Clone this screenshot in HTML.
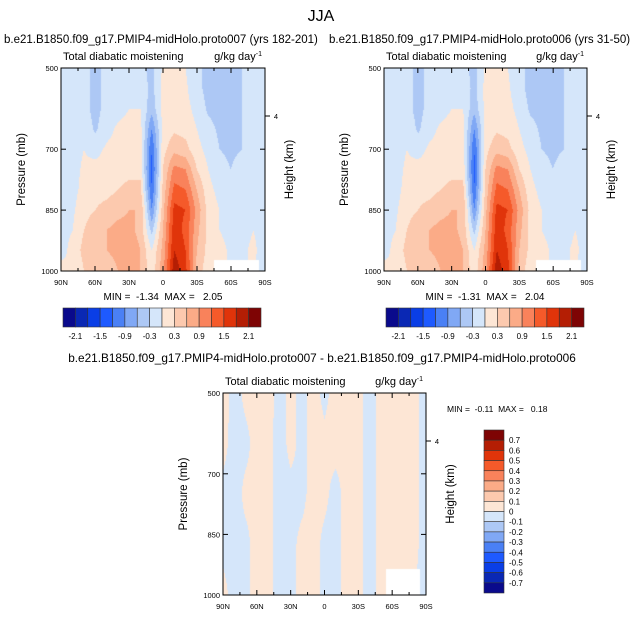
<!DOCTYPE html>
<html><head><meta charset="utf-8"><style>
body{margin:0;background:#fff;width:642px;height:617px;overflow:hidden;position:relative;font-family:"Liberation Sans",sans-serif}
canvas{position:absolute}
svg{position:absolute;left:0;top:0}
text{white-space:pre}
</style></head><body>
<canvas id="c1" width="204" height="203" style="left:61px;top:68px"></canvas>
<canvas id="c2" width="203" height="203" style="left:384px;top:68px"></canvas>
<canvas id="c3" width="203" height="202" style="left:223px;top:393px"></canvas>
<svg id="s" width="642" height="617"></svg>
<script>
const lats=[90,80,70,60,50,40,30,20,10,0,-10,-20,-30,-40,-50,-60,-70,-80,-90];
const levs=[500,550,600,650,700,750,800,850,900,950,1000];
const N=NaN;
const field1=[
[-.1,-.1,-.2,-.4,-.2,-.1,-.1,-.2,-.4,.05,.1,0,-.2,-.4,-.4,-.4,-.3,-.1,-.1],
[-.1,-.1,-.2,-.4,-.2,-.1,-.1,-.1,-.4,.1,.15,.05,-.2,-.4,-.4,-.4,-.3,-.1,-.1],
[-.1,-.1,-.2,-.4,-.2,-.1,0,0,-.5,.1,.2,.1,-.1,-.35,-.4,-.4,-.3,-.1,-.1],
[-.1,-.1,-.1,-.35,-.1,.05,.1,.1,-.9,.1,.25,.2,0,-.2,-.35,-.4,-.3,-.1,-.1],
[-.1,-.1,0,-.1,.05,.1,.15,.15,-1.2,.2,.5,.4,.1,-.1,-.3,-.35,-.3,-.1,-.1],
[-.1,-.1,.05,.1,.1,.15,.2,.2,-1.3,.3,1.0,.9,.3,0,-.2,-.3,-.2,-.1,-.1],
[-.1,-.1,.1,.2,.2,.3,.4,.4,-1.2,.4,1.3,1.2,.6,.1,-.1,-.2,-.2,-.1,-.1],
[-.1,-.05,.2,.3,.4,.5,.6,.6,-.9,.5,1.6,1.5,.8,.2,0,-.1,-.1,-.1,-.1],
[-.1,0,.3,.5,.6,.7,.7,.5,-.4,.6,1.7,1.4,.7,.2,0,-.1,-.1,0,-.1],
[-.1,.1,.4,.6,.6,.7,.8,.6,0,.7,1.8,1.5,.6,.2,.1,-.05,-.05,.05,-.1],
[.1,0,.3,.5,.4,.6,.8,.6,.1,.8,2.0,1.6,.5,.1,N,N,N,N,-.1]];
const field2=[
[-.1,-.1,-.2,-.4,-.2,-.1,-.1,-.2,-.4,.05,.1,0,-.2,-.4,-.4,-.4,-.3,-.1,-.1],
[-.1,-.1,-.2,-.4,-.2,-.1,-.1,-.1,-.4,.1,.15,.05,-.2,-.4,-.4,-.4,-.3,-.1,-.1],
[-.1,-.1,-.2,-.4,-.2,-.1,0,0,-.5,.1,.2,.1,-.1,-.35,-.4,-.4,-.3,-.1,-.1],
[-.1,-.1,-.1,-.35,-.1,.05,.1,.1,-.9,.1,.25,.2,0,-.2,-.35,-.4,-.3,-.1,-.1],
[-.1,-.1,0,-.1,.05,.1,.15,.15,-1.2,.2,.5,.4,.1,-.1,-.3,-.35,-.3,-.1,-.1],
[-.1,-.1,.05,.1,.1,.15,.2,.2,-1.3,.3,1.0,.9,.3,0,-.2,-.3,-.2,-.1,-.1],
[-.1,-.1,.1,.2,.2,.3,.4,.4,-1.2,.4,1.3,1.2,.6,.1,-.1,-.2,-.2,-.1,-.1],
[-.1,-.05,.2,.3,.4,.5,.6,.6,-.9,.5,1.6,1.5,.8,.2,0,-.1,-.1,-.1,-.1],
[-.1,0,.3,.5,.6,.7,.7,.5,-.4,.6,1.7,1.4,.7,.2,0,-.1,-.1,0,-.1],
[-.1,.1,.4,.6,.6,.7,.8,.6,0,.7,1.8,1.5,.6,.2,.1,-.05,-.05,.05,-.1],
[.1,0,.3,.5,.4,.6,.8,.6,.1,.8,2.0,1.6,.5,.1,N,N,N,N,-.1]];
const diffLevs=[500,625,750,875,1000];
const fieldDiff=[
[.03,-.03,.02,.03,.03,-.03,.02,-.02,.03,-.02,.03,.03,.02,-.03,.02,.03,.03,.02,-.03],
[.02,-.03,-.02,.03,.02,-.03,.02,-.02,.03,.02,.03,.03,.02,-.03,.02,.03,.03,.02,-.03],
[-.02,-.03,.02,.03,.02,-.03,-.02,-.02,.03,.02,-.03,.03,.02,-.03,.02,.03,.03,.02,-.03],
[-.02,-.03,-.02,.03,.02,-.03,-.02,.02,.03,-.02,-.03,.03,.02,-.03,.02,.03,.03,.02,-.03],
[.02,-.03,-.02,.03,.02,-.03,-.02,.02,.03,-.02,-.03,.03,.02,-.03,.02,N,N,N,-.03]];
const topTicks=["-2.1","-1.5","-0.9","-0.3","0.3","0.9","1.5","2.1"];
const diffTicks=["0.7","0.6","0.5","0.4","0.3","0.2","0.1","0","-0.1","-0.2","-0.3","-0.4","-0.5","-0.6","-0.7"];
const colors=["#0a0a8c","#0a28b4","#0a3ee6","#1e5aff","#4a80f5","#80a8f5","#adc8f5","#d5e6fa","#fde6d5","#fcc9ae","#fbab87","#f9825b","#f55a2a","#e0340a","#b41e04","#7e0404"];
function colIdx(v,lo,step){let i=Math.floor((v-lo)/step)+1;return Math.max(0,Math.min(15,i));}
function hex(c){return[parseInt(c.slice(1,3),16),parseInt(c.slice(3,5),16),parseInt(c.slice(5,7),16)];}
function paint(id,field,lvls,lo,step){
 const cv=document.getElementById(id),ctx=cv.getContext('2d'),W=cv.width,H=cv.height;
 const img=ctx.createImageData(W,H);
 for(let y=0;y<H;y++){const p=500+500*y/(H-1);
  let r=0;while(r<lvls.length-2&&lvls[r+1]<p)r++;const fy=(p-lvls[r])/(lvls[r+1]-lvls[r]);
  for(let x=0;x<W;x++){const lat=90-180*x/(W-1);
   let c=Math.min(lats.length-2,Math.floor((90-lat)/10));const fx=((90-lat)-c*10)/10;
   const pts=[[field[r][c],(1-fx)*(1-fy)],[field[r][c+1],fx*(1-fy)],[field[r+1][c],(1-fx)*fy],[field[r+1][c+1],fx*fy]];
   const near=field[r+(fy<0.5?0:1)][c+(fx<0.5?0:1)];
   let s=0,ws=0;pts.forEach(q=>{if(!isNaN(q[0])){s+=q[0]*q[1];ws+=q[1];}});
   const v=(isNaN(near)||ws==0)?NaN:s/ws;
   const k=(y*W+x)*4;
   if(isNaN(v)){img.data[k]=img.data[k+1]=img.data[k+2]=255;}
   else{const rgb=hex(colors[colIdx(v,lo,step)]);img.data[k]=rgb[0];img.data[k+1]=rgb[1];img.data[k+2]=rgb[2];}
   img.data[k+3]=255;}}
 ctx.putImageData(img,0,0);}
paint('c1',field1,levs,-2.1,0.3);
paint('c2',field2,levs,-2.1,0.3);
paint('c3',fieldDiff,diffLevs,-0.7,0.1);
const S=document.getElementById('s'),NS='http://www.w3.org/2000/svg';
function el(t,a,txt){const e=document.createElementNS(NS,t);for(const k in a)e.setAttribute(k,a[k]);if(txt!==undefined)e.textContent=txt;S.appendChild(e);return e;}
function txt(x,y,s,size,anchor,name,rot){const e=el('text',{x:x,y:y,'font-size':size,'text-anchor':anchor||'start',fill:'#000'},s);
 if(rot)e.setAttribute('transform','rotate(-90 '+x+' '+y+')');
 
 return e;}
const xl=["90N","60N","30N","0","30S","60S","90S"];
function panel(x0,y0,w,h,pfx){
 const fr=el('rect',{x:x0,y:y0,width:w,height:h,fill:'none',stroke:'#000','stroke-width':1});
 
 
 for(let i=0;i<=12;i++){const x=x0+w*i/12,L=i%2==0?5:3;
  el('line',{x1:x,y1:y0+h,x2:x,y2:y0+h-L,stroke:'#000'});el('line',{x1:x,y1:y0,x2:x,y2:y0+L,stroke:'#000'});}
 xl.forEach((s,i)=>txt(x0+w*i/6,y0+h+14,s,7.5,'middle',pfx+'-x-tick-label'));
 [500,700,850,1000].forEach(p=>{const y=y0+h*(p-500)/500;el('line',{x1:x0,y1:y,x2:x0+5,y2:y,stroke:'#000'});el('line',{x1:x0+w,y1:y,x2:x0+w-5,y2:y,stroke:'#000'});
  txt(x0-3,y+3,String(p),7.5,'end',pfx+'-y-tick-label');});
 el('line',{x1:x0+w,y1:y0+48,x2:x0+w+5,y2:y0+48,stroke:'#000'});
 txt(x0+w+11,y0+51,'4',7.5,'middle',pfx+'-height-tick-label');
 txt(x0-36,y0+h/2,'Pressure (mb)',11.5,'middle',pfx+'-y-axis-title',true);
 txt(x0+w+28,y0+h/2,'Height (km)',11.5,'middle',pfx+'-right-axis-title',true);
 txt(x0+2,y0-8,'Total diabatic moistening',11,'start',pfx+'-variable-label');
 const u=txt(x0+w-3,y0-8,'g/kg day',11,'end',pfx+'-units-label');
 const ts=document.createElementNS(NS,'tspan');ts.setAttribute('dy','-4');ts.setAttribute('font-size','7');ts.textContent='-1';u.appendChild(ts);
}
panel(61,68,204,203,'left');panel(384,68,203,203,'right');panel(223,393,203,202,'diff');
txt(321,21,'JJA',16,'middle','main-title');
txt(4,43,'b.e21.B1850.f09_g17.PMIP4-midHolo.proto007 (yrs 182-201)',11.5,'start','left-panel-title');
txt(329,43,'b.e21.B1850.f09_g17.PMIP4-midHolo.proto006 (yrs 31-50)',11.5,'start','right-panel-title');
txt(322,362,'b.e21.B1850.f09_g17.PMIP4-midHolo.proto007 - b.e21.B1850.f09_g17.PMIP4-midHolo.proto006',11.8,'middle','diff-panel-title');
txt(163,300,'MIN =  -1.34  MAX =   2.05',10,'middle','left-minmax');
txt(485,300,'MIN =  -1.31  MAX =   2.04',10,'middle','right-minmax');
txt(447,412,'MIN =  -0.11  MAX =   0.18',8.5,'start','diff-minmax');
function hbar(x0,pfx){const w=198/16;
 colors.forEach((c,i)=>{const r=el('rect',{x:x0+i*w,y:308,width:w,height:19,fill:c,stroke:'#333','stroke-width':0.6});
  
  });
 topTicks.forEach((s,i)=>txt(x0+w*(1+2*i),339,s,8,'middle',pfx+'-colorbar-label'));}
hbar(63,'left');hbar(386,'right');
(function(){const h=163/16;
 colors.slice().reverse().forEach((c,i)=>{const r=el('rect',{x:484,y:430+i*h,width:20,height:h,fill:c,stroke:'#333','stroke-width':0.6});
  
  });
 diffTicks.forEach((s,i)=>txt(509,430+h*(i+1)+3,s,8,'start','diff-colorbar-label'));})();
</script>
</body></html>
